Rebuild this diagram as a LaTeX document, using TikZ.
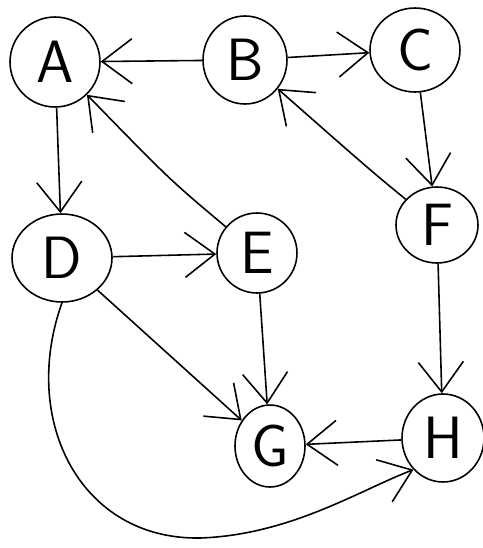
\documentclass[tikz,border=0pt]{standalone}
\usetikzlibrary{arrows.meta,shapes.geometric}
\begin{document}
\begin{tikzpicture}[x=0.02cm,y=-0.02cm,
  vert/.style={draw,ellipse,line width=0.9pt,inner sep=0pt,
    minimum width=1.7cm,minimum height=1.7cm,
    font=\fontsize{34}{34}\selectfont\sffamily},
  edge/.style={line width=0.9pt,-{Straight Barb[length=6mm,width=9mm,line width=0.9pt]}}]
  \useasboundingbox (0,0) rectangle (483,548);
  \node[vert,minimum width=1.8cm,minimum height=1.8cm] (A) at (55,62) {A};
  \node[vert,minimum width=1.68cm,minimum height=1.76cm] (B) at (245,60) {B};
  \node[vert,minimum width=1.8cm,minimum height=1.68cm] (C) at (415,50) {C};
  \node[vert,minimum width=2.0cm,minimum height=1.76cm] (D) at (62,258) {D};
  \node[vert,minimum width=1.6cm,minimum height=1.6cm] (E) at (257,253) {E};
  \node[vert,minimum width=1.64cm,minimum height=1.52cm] (F) at (437,225) {F};
  \node[vert,minimum width=1.4cm,minimum height=1.64cm] (G) at (270,446) {G};
  \node[vert,minimum width=1.64cm,minimum height=1.76cm] (H) at (443,438) {H};
  % upper row
  \draw[edge] (B) -- (A);
  \draw[edge] (B) -- (C);
  \draw[edge] (C) -- (F);
  \draw[edge] (F) .. controls (370,170) .. (B);
  % left side
  \draw[edge] (A) -- (D);
  \draw[edge] (E) .. controls (170,180) .. (A);
  \draw[edge] (D) -- (E);
  % lower part
  \draw[edge] (E) -- (G);
  \draw[edge] (D) -- (G);
  \draw[edge] (F) -- (H);
  \draw[edge] (H) -- (G);
  \draw[edge] (D.south) .. controls (20,420) and (80,540) .. (200,538)
    .. controls (290,535) and (360,490) .. (H.south west);
\end{tikzpicture}
\end{document}
